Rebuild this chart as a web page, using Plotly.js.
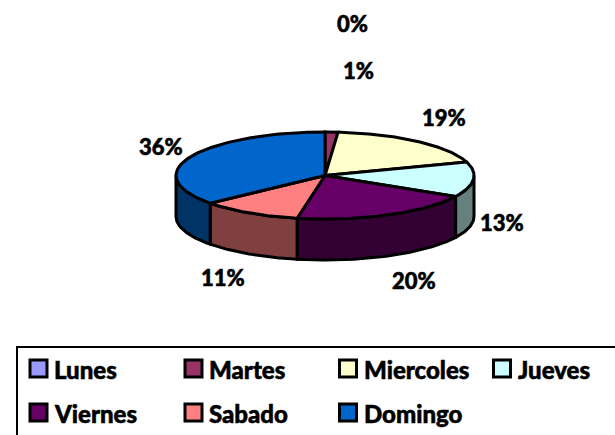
<!DOCTYPE html>
<html><head><meta charset="utf-8">
<script src="https://cdn.plot.ly/plotly-3.0.1.min.js"></script>
<style>html,body{margin:0;padding:0;background:#fff;overflow:hidden}
.annotation text{stroke:#000;stroke-width:.55px}</style></head>
<body><div id="chart" style="width:615px;height:435px"></div>
<script>
const categories = ["Lunes","Martes","Miercoles","Jueves","Viernes","Sabado","Domingo"];
const values = [0, 1.4, 18.6, 13, 20, 11, 36];
const topColors = ["#9999FF","#993366","#FFFFCC","#CCFFFF","#660066","#FF8080","#0066CC"];
const sideColors = ["#4D4D80","#4D1A33","#808066","#668080","#330033","#804040","#003366"];
const labelX = [352,358,444,502,414,223,161];
const labelY = [23,70,117,222,280,277,146];
const legendX = [38.5,193.5,348,502,38.5,193.5,348];
const legendY = [368.5,368.5,368.5,368.5,412.5,412.5,412.5];

const cx=325, cy=175.5, rx=149, ry=43.5, depth=41;
const pt=(deg,dy=0)=>[cx+rx*Math.sin(deg*Math.PI/180), cy-ry*Math.cos(deg*Math.PI/180)+dy];
function arc(a,b,dy=0){const n=Math.max(2,Math.ceil(Math.abs(b-a)));const o=[];for(let i=0;i<=n;i++)o.push(pt(a+(b-a)*i/n,dy));return o;}
const total=values.reduce((s,v)=>s+v,0);
const traces=[], tops=[];
let acc=0;
values.forEach((v,i)=>{
  const a=acc/total*360, b=(acc+v)/total*360; acc+=v;
  const sa=Math.max(a,90), sb=Math.min(b,270);
  if(sb>sa){
    const p=arc(sa,sb).concat(arc(sb,sa,depth)); p.push(p[0]);
    traces.push({x:p.map(q=>q[0]),y:p.map(q=>q[1]),mode:"lines",fill:"toself",fillcolor:sideColors[i],line:{color:"#000",width:3},hoverinfo:"skip",showlegend:false});
  }
  if(v>0){
    const p=[[cx,cy]].concat(arc(a,b)); p.push([cx,cy]);
    tops.push({x:p.map(q=>q[0]),y:p.map(q=>q[1]),mode:"lines",fill:"toself",fillcolor:topColors[i],line:{color:"#000",width:3},hoverinfo:"skip",showlegend:false});
  }
});
const swatches={x:legendX,y:legendY,mode:"markers",marker:{symbol:"square",size:17,color:topColors,line:{color:"#000",width:3}},hoverinfo:"skip",showlegend:false};
const font={family:"Lato, sans-serif",size:24,color:"#000",weight:900};
const annotations=values.map((v,i)=>({x:labelX[i],y:labelY[i],xref:"x",yref:"y",text:Math.round(v)+"%",showarrow:false,font:{...font,size:22},xanchor:"center",yanchor:"middle"}))
 .concat(categories.map((c,i)=>({x:legendX[i]+13.5,y:legendY[i]+1,xref:"x",yref:"y",text:c,showarrow:false,font,xanchor:"left",yanchor:"middle"})));
const layout={width:615,height:435,margin:{l:0,r:0,t:0,b:0},paper_bgcolor:"#fff",plot_bgcolor:"#fff",showlegend:false,hovermode:false,
 xaxis:{range:[0,615],visible:false,fixedrange:true},yaxis:{range:[435,0],visible:false,fixedrange:true},
 annotations,
 shapes:[{type:"rect",xref:"x",yref:"y",x0:17,x1:640,y0:347,y1:460,line:{color:"#000",width:2},fillcolor:"rgba(0,0,0,0)"}]};
Plotly.newPlot("chart",traces.concat(tops,[swatches]),layout,{displayModeBar:false,staticPlot:true});
</script></body></html>
